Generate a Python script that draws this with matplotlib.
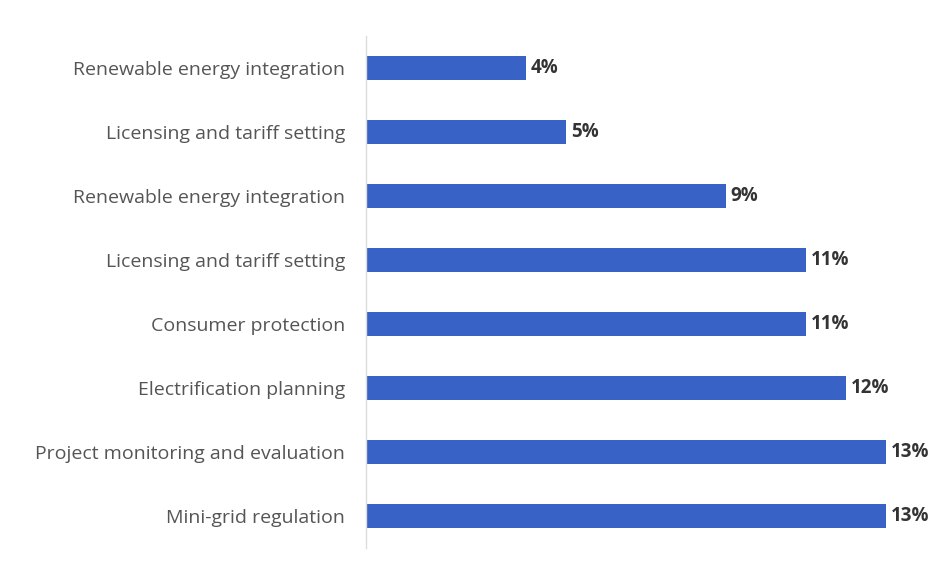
import matplotlib
matplotlib.use("Agg")
import matplotlib.pyplot as plt

# categories listed bottom to top
categories = [
    "Mini-grid regulation",
    "Project monitoring and evaluation",
    "Electrification planning",
    "Consumer protection",
    "Licensing and tariff setting",
    "Renewable energy integration",
    "Licensing and tariff setting",
    "Renewable energy integration",
]
shares = [13, 13, 12, 11, 11, 9, 5, 4]

BAR_COLOR = "#3862c6"
TEXT_COLOR = "#555555"
VALUE_COLOR = "#333333"

plt.rcParams["font.family"] = ["Open Sans", "DejaVu Sans"]

fig = plt.figure(figsize=(9.35, 5.70), dpi=100)
ax = fig.add_axes([366 / 935, 1 - 548 / 570, 560 / 935, 512 / 570])

pos = list(range(len(categories)))
ax.barh(pos, shares, height=0.36, color=BAR_COLOR)

for y, v in zip(pos, shares):
    ax.text(v + 0.12, y, f"{v}%", va="center", ha="left",
            fontsize=13.5, fontweight="bold", color=VALUE_COLOR)

ax.set_xlim(0, 14)
ax.set_ylim(-0.5, len(categories) - 0.5)
ax.set_yticks(pos)
ax.set_yticklabels(categories, fontsize=14, color=TEXT_COLOR)
ax.tick_params(axis="y", length=0, pad=15)
ax.set_xticks([])

for side in ["top", "right", "bottom"]:
    ax.spines[side].set_visible(False)
ax.spines["left"].set_color("#dcdcdc")
ax.spines["left"].set_linewidth(1)

fig.savefig("out.png", dpi=100)
